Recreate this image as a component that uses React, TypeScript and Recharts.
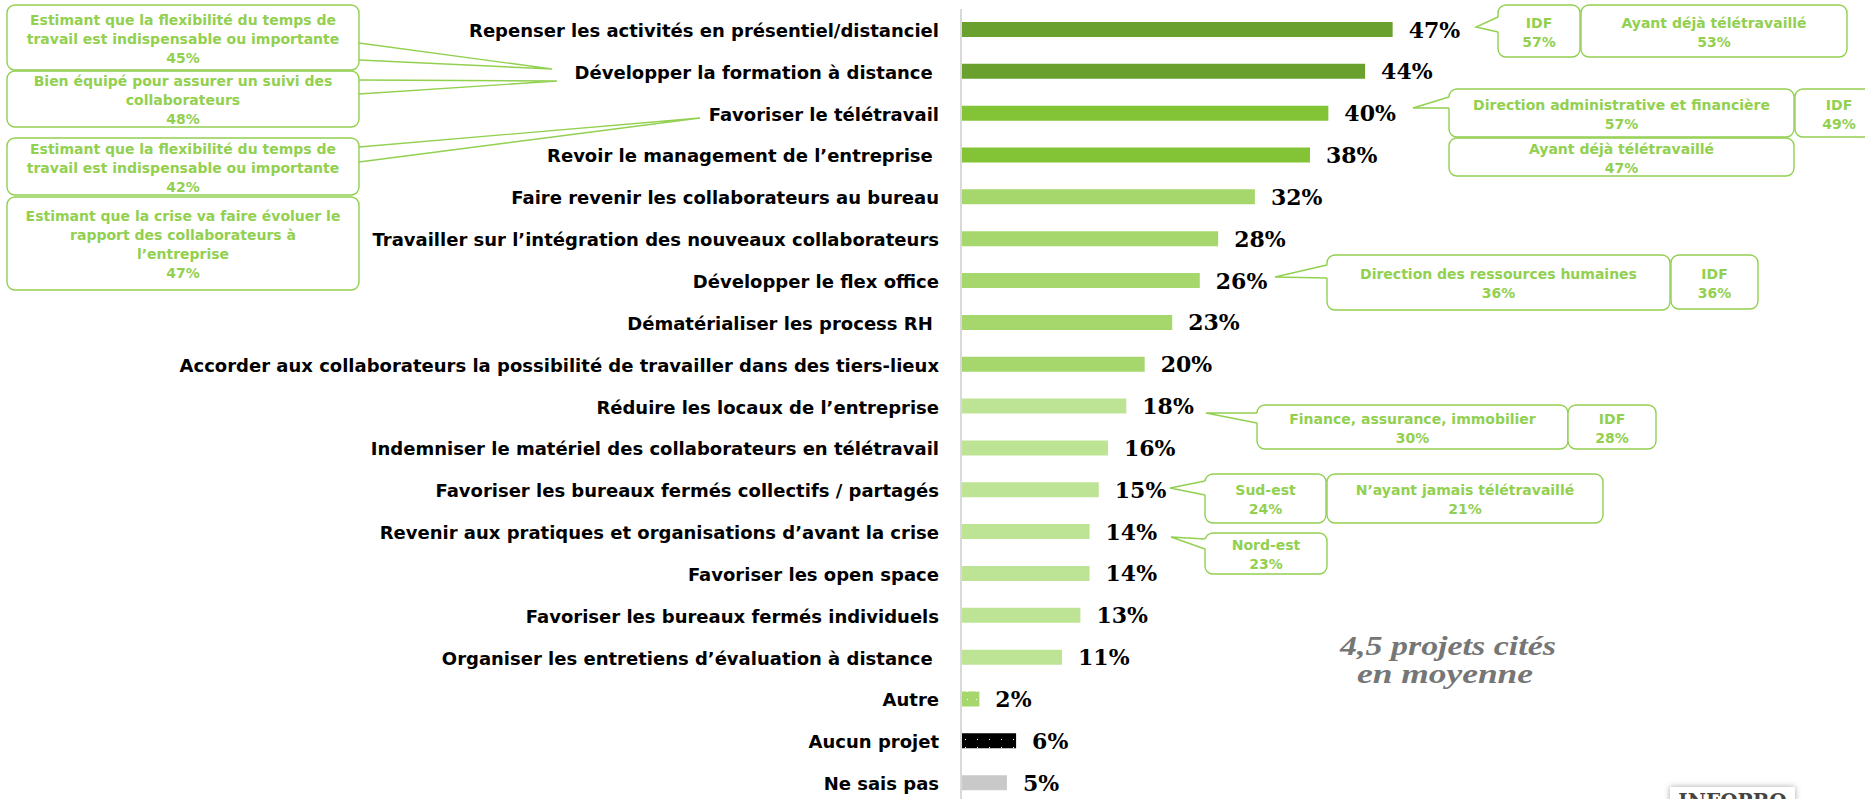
import React from 'react'
import { BarChart, Bar, XAxis, YAxis, Cell, LabelList } from 'recharts'

const categories = [
    'Repenser les activités en présentiel/distanciel',
    'Développer la formation à distance\u00a0',
    'Favoriser le télétravail',
    'Revoir le management de l’entreprise\u00a0',
    'Faire revenir les collaborateurs au bureau',
    'Travailler sur l’intégration des nouveaux collaborateurs',
    'Développer le flex office',
    'Dématérialiser les process RH\u00a0',
    'Accorder aux collaborateurs la possibilité de travailler dans des tiers-lieux',
    'Réduire les locaux de l’entreprise',
    'Indemniser le matériel des collaborateurs en télétravail',
    'Favoriser les bureaux fermés collectifs / partagés',
    'Revenir aux pratiques et organisations d’avant la crise',
    'Favoriser les open space',
    'Favoriser les bureaux fermés individuels',
    'Organiser les entretiens d’évaluation à distance\u00a0',
    'Autre',
    'Aucun projet',
    'Ne sais pas',
]

const values = [47, 44, 40, 38, 32, 28, 26, 23, 20, 18, 16, 15, 14, 14, 13, 11, 2, 6, 5]

const fills = [
    '#6aa12e', '#6aa12e', '#82c435', '#82c435',
    '#a5d76d', '#a5d76d', '#a5d76d', '#a5d76d', '#a5d76d',
    '#bde394', '#bde394', '#bde394', '#bde394', '#bde394', '#bde394', '#bde394',
    'url(#dotsGreen)', 'url(#dotsBlack)', '#c9c9c9',
]

const data = categories.map((name, i) => ({ name, value: values[i] }))

const GREEN = '#92d050'

const CategoryTick = ({ x, y, payload }: any) => (
    <text
        x={x - 22}
        y={y}
        dy={7}
        textAnchor="end"
        fontFamily="DejaVu Sans"
        fontWeight="bold"
        fontSize={18}
        fill="#000"
    >
        {payload.value}
    </text>
)

const ValueLabel = (props: any) => {
    const vb = props.viewBox || {}
    const x = props.x ?? vb.x
    const y = props.y ?? vb.y
    const width = props.width ?? vb.width
    const height = props.height ?? vb.height
    return (
        <text
            x={x + width + 16}
            y={y + height / 2 + 8}
            fontFamily="DejaVu Serif"
            fontWeight="bold"
            fontSize={22}
            fill="#000"
        >
            {props.value}%
        </text>
    )
}

type Pt = [number, number]

const Callout = ({ x, y, w, h, lines, tail }: { x: number; y: number; w: number; h: number; lines: string[]; tail?: [Pt, Pt, Pt] }) => {
    const cx = x + w / 2
    const cy = y + h / 2
    const first = cy - ((lines.length - 1) * 19) / 2 + 6
    return (
        <g>
            <rect x={x} y={y} width={w} height={h} rx={8} ry={8} fill="#fff" stroke={GREEN} strokeWidth={1.4} />
            {tail && (
                <>
                    <polygon
                        points={`${tail[1][0] + 1.5},${tail[1][1]} ${tail[0][0]},${tail[0][1]} ${tail[2][0] + 1.5},${tail[2][1]}`}
                        fill="#fff"
                        stroke="none"
                    />
                    <polyline
                        points={`${tail[1][0]},${tail[1][1]} ${tail[0][0]},${tail[0][1]} ${tail[2][0]},${tail[2][1]}`}
                        fill="none"
                        stroke={GREEN}
                        strokeWidth={1.4}
                    />
                </>
            )}
            {lines.map((t, i) => (
                <text
                    key={i}
                    x={cx}
                    y={first + i * 19}
                    textAnchor="middle"
                    fontFamily="DejaVu Sans"
                    fontWeight="bold"
                    fontSize={14}
                    fill={GREEN}
                >
                    {t}
                </text>
            ))}
        </g>
    )
}

export default function App() {
    return (
        <div style={{ position: 'fixed', left: 0, top: 0, width: 1865, height: 799, overflow: 'hidden', background: '#fff' }}>
            <svg width={0} height={0} style={{ position: 'absolute' }}>
                <defs>
                    <pattern id="dotsGreen" width={9} height={8} patternUnits="userSpaceOnUse">
                        <rect width={9} height={8} fill="#a5d76d" />
                        <rect x={4} y={3} width={1} height={1} fill="#fff" />
                    </pattern>
                    <pattern id="dotsBlack" width={12} height={8} patternUnits="userSpaceOnUse">
                        <rect width={12} height={8} fill="#000" />
                        <rect x={5} y={3} width={1} height={1} fill="#fff" />
                    </pattern>
                </defs>
            </svg>
            <BarChart
                width={1865}
                height={820}
                data={data}
                layout="vertical"
                margin={{ top: 9, right: 4, bottom: 16, left: 0 }}
            >
                <XAxis type="number" domain={[0, 98]} hide />
                <YAxis
                    type="category"
                    dataKey="name"
                    width={961}
                    tickSize={0}
                    tickMargin={0}
                    tickLine={false}
                    axisLine={{ stroke: '#d9d9d9', strokeWidth: 2 }}
                    tick={<CategoryTick />}
                    interval={0}
                />
                <Bar dataKey="value" barSize={15} isAnimationActive={false}>
                    {data.map((d, i) => (
                        <Cell key={d.name} fill={fills[i]} />
                    ))}
                    <LabelList dataKey="value" content={<ValueLabel />} />
                </Bar>
            </BarChart>
            <svg width={1865} height={799} style={{ position: 'absolute', left: 0, top: 0, pointerEvents: 'none' }}>
                <Callout x={7} y={5} w={352} h={65} tail={[[552, 69], [359, 43], [359, 60]]}
                    lines={['Estimant que la flexibilité du temps de', 'travail est indispensable ou importante', '45%']} />
                <Callout x={7} y={71} w={352} h={56} tail={[[557, 81], [359, 80], [359, 94]]}
                    lines={['Bien équipé pour assurer un suivi des', 'collaborateurs', '48%']} />
                <Callout x={7} y={138} w={352} h={57} tail={[[700, 118], [359, 147], [359, 162]]}
                    lines={['Estimant que la flexibilité du temps de', 'travail est indispensable ou importante', '42%']} />
                <Callout x={7} y={197} w={352} h={93}
                    lines={['Estimant que la crise va faire évoluer le', 'rapport des collaborateurs à', 'l’entreprise', '47%']} />

                <Callout x={1498} y={5} w={82} h={52} tail={[[1476, 27], [1498, 17], [1498, 32]]} lines={['IDF', '57%']} />
                <Callout x={1581} y={5} w={266} h={52} lines={['Ayant déjà télétravaillé', '53%']} />
                <Callout x={1449} y={89} w={345} h={48} tail={[[1413, 108], [1449, 97], [1449, 108]]}
                    lines={['Direction administrative et financière', '57%']} />
                <Callout x={1795} y={89} w={88} h={48} lines={['IDF', '49%']} />
                <Callout x={1449} y={138} w={345} h={38} lines={['Ayant déjà télétravaillé', '47%']} />

                <Callout x={1327} y={255} w={343} h={55} tail={[[1275, 277], [1327, 265], [1327, 278]]}
                    lines={['Direction des ressources humaines', '36%']} />
                <Callout x={1671} y={255} w={87} h={54} lines={['IDF', '36%']} />

                <Callout x={1257} y={405} w={311} h={44} tail={[[1206, 413], [1257, 413], [1257, 423]]}
                    lines={['Finance, assurance, immobilier', '30%']} />
                <Callout x={1568} y={405} w={88} h={44} lines={['IDF', '28%']} />

                <Callout x={1205} y={474} w={121} h={49} tail={[[1170, 488], [1205, 481], [1205, 495]]}
                    lines={['Sud-est', '24%']} />
                <Callout x={1327} y={474} w={276} h={49} lines={['N’ayant jamais télétravaillé', '21%']} />
                <Callout x={1205} y={533} w={122} h={41} tail={[[1171, 537], [1205, 539], [1205, 549]]}
                    lines={['Nord-est', '23%']} />

                <text x={1448} y={655} textAnchor="middle" fontFamily="Liberation Serif" fontStyle="italic" fontWeight="bold"
                    fontSize={28} fill="#767676" textLength={216} lengthAdjust="spacingAndGlyphs">
                    4,5 projets cités
                </text>
                <text x={1445} y={683} textAnchor="middle" fontFamily="Liberation Serif" fontStyle="italic" fontWeight="bold"
                    fontSize={28} fill="#767676" textLength={176} lengthAdjust="spacingAndGlyphs">
                    en moyenne
                </text>
            </svg>
            <div
                style={{
                    position: 'absolute',
                    left: 1670,
                    top: 787,
                    width: 125,
                    height: 40,
                    background: '#fff',
                    boxShadow: '0 0 6px rgba(0,0,0,0.35)',
                    fontFamily: 'DejaVu Serif',
                    fontSize: 20,
                    fontWeight: 'bold',
                    color: '#444',
                    textAlign: 'center',
                    lineHeight: '40px',
                }}
            >
                <div style={{ marginTop: -6 }}>INFOPRO</div>
            </div>
        </div>
    )
}
